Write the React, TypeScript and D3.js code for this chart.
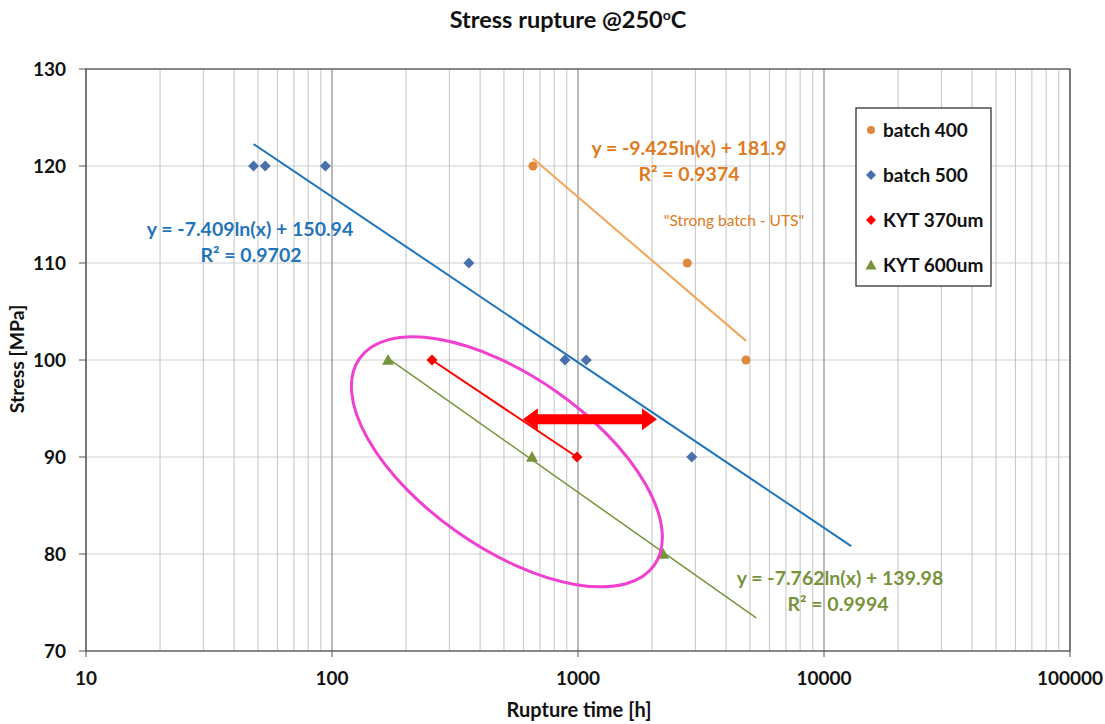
import React from "react";
import * as d3 from "d3";

type Pt = { t: number; s: number };

// measured points
const batch400: Pt[] = [
    { t: 656, s: 120 },
    { t: 2780, s: 110 },
    { t: 4820, s: 100 },
];
const batch500: Pt[] = [
    { t: 48, s: 120 },
    { t: 53.5, s: 120 },
    { t: 94, s: 120 },
    { t: 360, s: 110 },
    { t: 885, s: 100 },
    { t: 1080, s: 100 },
    { t: 2900, s: 90 },
];
const kyt370: Pt[] = [
    { t: 255, s: 100 },
    { t: 990, s: 90 },
];
const kyt600: Pt[] = [
    { t: 169, s: 100 },
    { t: 650, s: 90 },
    { t: 2220, s: 80 },
];

// log trendlines: s = a*ln(t) + b, drawn between t0 and t1
const trend400 = { a: -9.425, b: 181.9, t0: 656, t1: 4820, r2: "0.9374" };
const trend500 = { a: -7.409, b: 150.94, t0: 48, t1: 12900, r2: "0.9702" };
const trend600 = { a: -7.762, b: 139.98, t0: 169, t1: 5300, r2: "0.9994" };

const xTicks = [10, 100, 1000, 10000, 100000];
const yTicks = [70, 80, 90, 100, 110, 120, 130];

const legendItems = ["batch 400", "batch 500", "KYT 370um", "KYT 600um"];

// annotations (data coordinates)
const arrowSpan = { t0: 597, t1: 2094, s: 93.9 };
const ellipseNote = { t: 514, s: 89.5, rx: 180, ry: 86, angle: 35 };

const W = 1105;
const H = 724;
const FONT = "Lato, 'Open Sans', sans-serif";

const C400 = "#E0883E";
const C400line = "#F3A55A";
const C400text = "#E07A1E";
const C500 = "#4A70AC";
const C500line = "#1F74BA";
const C500text = "#1F74BA";
const CRED = "#FF0000";
const CGRN = "#77933C";
const CPINK = "#F040D0";

const Diamond = ({ x, y, r, fill }: { x: number; y: number; r: number; fill: string }) => (
    <path d={`M${x},${y - r}L${x + r},${y}L${x},${y + r}L${x - r},${y}Z`} fill={fill} />
);
const Triangle = ({ x, y, r, fill }: { x: number; y: number; r: number; fill: string }) => (
    <path d={`M${x},${y - r}L${x + r},${y + r * 0.8}L${x - r},${y + r * 0.8}Z`} fill={fill} />
);

export default function App() {
    const left = 86, right = 1070, top = 69, bottom = 651;
    const x = d3.scaleLog().domain([10, 100000]).range([left, right]);
    const y = d3.scaleLinear().domain([70, 130]).range([bottom, top]);

    const minor: number[] = [];
    for (let k = 1; k < 5; k++) {
        for (let m = 2; m <= 9; m++) minor.push(m * Math.pow(10, k));
    }

    const line = d3
        .line<Pt>()
        .x((d) => x(d.t))
        .y((d) => y(d.s));

    const trendPath = (tr: { a: number; b: number; t0: number; t1: number }) =>
        line([tr.t0, tr.t1].map((t) => ({ t, s: tr.a * Math.log(t) + tr.b }))) ?? "";

    // arrow
    const ax0 = x(arrowSpan.t0), ax1 = x(arrowSpan.t1), ay = y(arrowSpan.s);
    const hl = 15, hh = 11, sh = 5;
    const arrowD =
        `M${ax0},${ay}L${ax0 + hl},${ay - hh}L${ax0 + hl},${ay - sh}L${ax1 - hl},${ay - sh}` +
        `L${ax1 - hl},${ay - hh}L${ax1},${ay}L${ax1 - hl},${ay + hh}L${ax1 - hl},${ay + sh}` +
        `L${ax0 + hl},${ay + sh}L${ax0 + hl},${ay + hh}Z`;

    const ex = x(ellipseNote.t), ey = y(ellipseNote.s);

    return (
        <svg
            width={W}
            height={H}
            style={{ position: "absolute", left: 0, top: 0, background: "#fff" }}
            fontFamily={FONT}
        >
            {/* title */}
            <text x={568} y={28} textAnchor="middle" fontSize={23.5} fontWeight="bold" fill="#111">
                Stress rupture @250
                <tspan dy={-8} fontSize={14}>o</tspan>
                <tspan dy={8}>C</tspan>
            </text>

            {/* grid */}
            {yTicks.map((t) => (
                <line key={"h" + t} x1={left} x2={right} y1={y(t)} y2={y(t)} stroke="#d0d0d0" strokeWidth={1} />
            ))}
            {minor.map((t) => (
                <line key={"m" + t} x1={x(t)} x2={x(t)} y1={top} y2={bottom} stroke="#c4c4c4" strokeWidth={1} />
            ))}
            {xTicks.map((t) => (
                <line key={"v" + t} x1={x(t)} x2={x(t)} y1={top} y2={bottom} stroke="#8c8c8c" strokeWidth={1.2} />
            ))}
            <rect x={left} y={top} width={right - left} height={bottom - top} fill="none" stroke="#555" strokeWidth={1.3} />

            {/* y ticks */}
            {yTicks.map((t) => (
                <g key={"yt" + t}>
                    <line x1={left - 7} x2={left} y1={y(t)} y2={y(t)} stroke="#555" />
                    <text x={left - 20} y={y(t) + 7} textAnchor="end" fontSize={19} fontWeight="bold" fill="#111">
                        {t}
                    </text>
                </g>
            ))}
            {xTicks.map((t) => (
                <g key={"xt" + t}>
                    <line x1={x(t)} x2={x(t)} y1={bottom} y2={bottom + 6} stroke="#555" />
                    <text x={x(t)} y={bottom + 34} textAnchor="middle" fontSize={19} fontWeight="bold" fill="#111">
                        {t}
                    </text>
                </g>
            ))}
            <text x={579} y={717} textAnchor="middle" fontSize={20} fontWeight="bold" fill="#111">
                Rupture time [h]
            </text>
            <text
                transform={`translate(24,359) rotate(-90)`}
                textAnchor="middle"
                fontSize={19.5}
                fontWeight="bold"
                fill="#111"
            >
                Stress [MPa]
            </text>

            {/* trendlines */}
            <path d={trendPath(trend500)} fill="none" stroke={C500line} strokeWidth={2} />
            <path d={trendPath(trend400)} fill="none" stroke={C400line} strokeWidth={2} />
            <path d={trendPath(trend600)} fill="none" stroke={CGRN} strokeWidth={1.5} />
            <path d={line(kyt370) ?? ""} fill="none" stroke={CRED} strokeWidth={2} />

            {/* markers */}
            {batch500.map((d, i) => (
                <Diamond key={"b5" + i} x={x(d.t)} y={y(d.s)} r={5.5} fill={C500} />
            ))}
            {batch400.map((d, i) => (
                <circle key={"b4" + i} cx={x(d.t)} cy={y(d.s)} r={4.5} fill={C400} />
            ))}
            {kyt370.map((d, i) => (
                <Diamond key={"k3" + i} x={x(d.t)} y={y(d.s)} r={5.5} fill={CRED} />
            ))}
            {kyt600.map((d, i) => (
                <Triangle key={"k6" + i} x={x(d.t)} y={y(d.s)} r={6} fill={CGRN} />
            ))}

            {/* annotations */}
            <ellipse
                cx={ex}
                cy={ey}
                rx={ellipseNote.rx}
                ry={ellipseNote.ry}
                transform={`rotate(${ellipseNote.angle},${ex},${ey})`}
                fill="none"
                stroke={CPINK}
                strokeWidth={3}
            />
            <path d={arrowD} fill={CRED} />

            {/* equation labels */}
            <g fontSize={19.5} fontWeight="bold" textAnchor="middle">
                <text x={250} y={236} fill={C500text}>y = -7.409ln(x) + 150.94</text>
                <text x={251} y={262} fill={C500text}>R² = {trend500.r2}</text>
                <text x={689} y={155} fill={C400text}>y = -9.425ln(x) + 181.9</text>
                <text x={689} y={181} fill={C400text}>R² = {trend400.r2}</text>
                <text x={840} y={585} fill={CGRN}>y = -7.762ln(x) + 139.98</text>
                <text x={838} y={611} fill={CGRN}>R² = {trend600.r2}</text>
            </g>
            <text x={734} y={226} textAnchor="middle" fontSize={15.5} fill={C400text}>
                "Strong batch - UTS"
            </text>

            {/* legend */}
            <rect x={856} y={108} width={135} height={178} fill="#fff" stroke="#222" strokeWidth={1.2} />
            {legendItems.map((name, i) => {
                const ly = 130 + i * 45;
                const mx = 871;
                return (
                    <g key={name}>
                        {i === 0 && <circle cx={mx} cy={ly} r={4} fill={C400} />}
                        {i === 1 && <Diamond x={mx} y={ly} r={5} fill={C500} />}
                        {i === 2 && <Diamond x={mx} y={ly} r={5} fill={CRED} />}
                        {i === 3 && <Triangle x={mx} y={ly} r={5.5} fill={CGRN} />}
                        <text x={883} y={ly + 7} fontSize={19} fontWeight="bold" fill="#111">
                            {name}
                        </text>
                    </g>
                );
            })}
        </svg>
    );
}
